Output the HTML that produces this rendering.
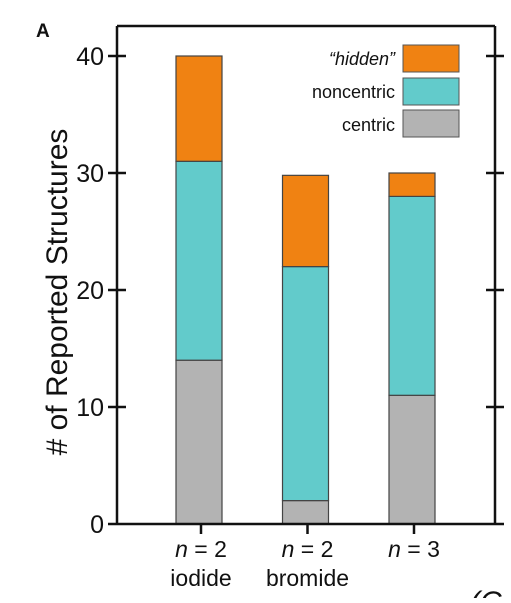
<!DOCTYPE html>
<html><head><meta charset="utf-8"><style>
body{margin:0;background:#fff;width:511px;height:598px;overflow:hidden}
text{font-family:"Liberation Sans",Arial,sans-serif;fill:#111}
</style></head><body>
<svg width="511" height="598">
<text x="36" y="37" font-size="19" font-weight="bold">A</text>
<g id="marks"></g>
<line x1="117" y1="26" x2="495" y2="26" stroke="#111" stroke-width="2.5"/>
<line x1="117" y1="26" x2="117" y2="525" stroke="#111" stroke-width="2.5"/>
<line x1="495" y1="26" x2="495" y2="525" stroke="#111" stroke-width="2.5"/>
<line x1="108" y1="524" x2="504" y2="524" stroke="#111" stroke-width="2.5"/>
<g id="ticks"></g>
<text transform="translate(67,292) rotate(-90)" text-anchor="middle" font-size="30"># of Reported Structures</text>
<g>
<rect x="403" y="45" width="56" height="27" fill="#f08212" stroke="#555"/>
<rect x="403" y="78" width="56" height="27" fill="#62cbcb" stroke="#555"/>
<rect x="403" y="110" width="56" height="27" fill="#b3b3b3" stroke="#555"/>
<text x="395" y="65" text-anchor="end" font-size="18" font-style="italic">“hidden”</text>
<text x="395" y="98" text-anchor="end" font-size="18">noncentric</text>
<text x="395" y="131" text-anchor="end" font-size="18">centric</text>
</g>
<text x="470" y="612" font-size="30" font-style="italic">(C</text>
</svg>
<script>
const categories=["iodide","bromide",""];
const nLabels=["2","2","3"];
const centric=[14,2,11];
const noncentric=[17,20,17];
const hidden=[9,7.8,2];
const yTicks=[0,10,20,30,40];
const NS="http://www.w3.org/2000/svg";
const y=v=>524-v*(468/40);
const xc=i=>199+i*106.5;
const bw=46;
function mk(t,a,p){const e=document.createElementNS(NS,t);for(const k in a)e.setAttribute(k,a[k]);p.appendChild(e);return e;}
const marks=document.getElementById('marks'),ticks=document.getElementById('ticks');
const series=[[centric,"#b3b3b3","centric"],[noncentric,"#62cbcb","noncentric"],[hidden,"#f08212","hidden"]];
categories.forEach((c,i)=>{
  let base=0;
  series.forEach(([arr,col,nm])=>{
    const v=arr[i];
    const r=mk('rect',{x:xc(i)-bw/2,y:y(base+v),width:bw,height:y(base)-y(base+v),fill:col,stroke:"#444","stroke-width":1.2},marks);
    
    
    base+=v;
  });
  const tk=mk('line',{x1:xc(i)+2,x2:xc(i)+2,y1:524,y2:534,stroke:"#111","stroke-width":2.5},ticks);
  
  
  const t=mk('text',{x:xc(i)+2,y:557,"text-anchor":"middle","font-size":23},ticks);
  t.innerHTML='<tspan font-style="italic">n</tspan> = '+nLabels[i];
  
  
  const t2=mk('text',{x:xc(i)+2,y:586,"text-anchor":"middle","font-size":23},ticks);
  t2.textContent=c;
  
  
});
yTicks.forEach(v=>{
  if(v>0){
    const l=mk('line',{x1:108,x2:126,y1:y(v),y2:y(v),stroke:"#111","stroke-width":2.5},ticks);
    
    
    const r=mk('line',{x1:486,x2:504,y1:y(v),y2:y(v),stroke:"#111","stroke-width":2.5},ticks);
    
    
  }
  const t=mk('text',{x:104,y:y(v)+9,"text-anchor":"end","font-size":25},ticks);
  t.textContent=v;
  
  
});
</script>
</body></html>
